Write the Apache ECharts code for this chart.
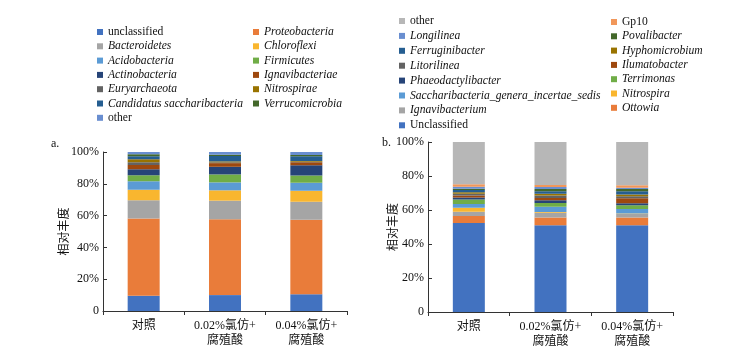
<!DOCTYPE html>
<html>
<head>
<meta charset="utf-8">
<script src="https://cdn.jsdelivr.net/npm/echarts@6/dist/echarts.min.js"></script>
<style>
  html, body { margin: 0; padding: 0; background: #fff; }
  #main { width: 753px; height: 350px; }
</style>
</head>
<body>
<div id="main"></div>
<script>
// 处理组
var groups = ['对照', '0.02%氯仿+\n腐殖酸', '0.04%氯仿+\n腐殖酸'];
var yTicks = [0, 20, 40, 60, 80, 100];

// a. 门水平 (自下而上)
var phylumNames = ['unclassified', 'Proteobacteria', 'Bacteroidetes', 'Chloroflexi', 'Acidobacteria',
    'Firmicutes', 'Actinobacteria', 'Ignavibacteriae', 'Euryarchaeota', 'Nitrospirae',
    'Candidatus saccharibacteria', 'Verrucomicrobia', 'other'];
var phylumCK = [9.6, 48.5, 11.5, 6.6, 5.4, 3.8, 3.8, 2.7, 1.7, 1.9, 1.9, 1.2, 1.4];
var phylum002 = [10.0, 47.7, 11.7, 6.5, 5.0, 5.0, 4.8, 2.3, 0.5, 0.6, 3.4, 0.8, 1.7];
var phylum004 = [10.5, 46.9, 11.3, 6.9, 5.0, 4.6, 6.4, 1.9, 0.3, 0.6, 2.9, 0.8, 1.9];

// b. 属水平 (自下而上)
var genusNames = ['Unclassified', 'Ottowia', 'Ignavibacterium', 'Nitrospira',
    'Saccharibacteria_genera_incertae_sedis', 'Terrimonas', 'Phaeodactylibacter', 'Ilumatobacter',
    'Litorilinea', 'Hyphomicrobium', 'Ferruginibacter', 'Povalibacter', 'Longilinea', 'Gp10', 'other'];
var genusCK = [52.3, 4.1, 2.6, 2.3, 2.2, 2.7, 1.2, 1.2, 0.9, 1.0, 1.2, 0.8, 1.2, 1.5, 24.8];
var genus002 = [51.1, 4.5, 2.8, 0.4, 3.1, 2.2, 1.6, 1.4, 1.4, 1.0, 1.6, 1.2, 1.2, 1.2, 25.3];
var genus004 = [51.1, 4.5, 2.0, 0.4, 2.6, 2.2, 1.2, 2.9, 1.2, 1.0, 2.0, 1.2, 0.8, 1.4, 25.5];

var palette = ['#4272C0', '#E97C3A', '#A5A5A5', '#F9B62F', '#5B9BD5', '#70AD47',
    '#264478', '#9E480E', '#636363', '#997300', '#255E91', '#43682B',
    '#698ED0', '#F1975A', '#B7B7B7'];
var plainNames = ['unclassified', 'Unclassified', 'other', 'Gp10'];

var serif = '"Liberation Serif", "Times New Roman", "Noto Sans CJK SC", serif';
var axisColor = '#333';

var myChart = echarts.init(document.getElementById('main'));

var series = [];
var i;
for (i = 0; i < phylumNames.length; i++) {
    series.push({
        name: phylumNames[i],
        type: 'bar',
        stack: 'phylum',
        xAxisIndex: 0,
        yAxisIndex: 0,
        barWidth: 32,
        itemStyle: { color: palette[i] },
        data: [phylumCK[i], phylum002[i], phylum004[i]]
    });
}
for (i = 0; i < genusNames.length; i++) {
    series.push({
        name: genusNames[i],
        type: 'bar',
        stack: 'genus',
        xAxisIndex: 1,
        yAxisIndex: 1,
        barWidth: 32,
        itemStyle: { color: palette[i] },
        data: [genusCK[i], genus002[i], genus004[i]]
    });
}

// 图例条目
var legendItem = function (name, color) {
    return {
        name: name,
        itemStyle: { color: color },
        textStyle: { fontStyle: plainNames.indexOf(name) >= 0 ? 'normal' : 'italic' }
    };
};
var leftCol1 = [], leftCol2 = [];
for (i = 0; i < phylumNames.length; i++) {
    (i % 2 === 0 ? leftCol1 : leftCol2).push(legendItem(phylumNames[i], palette[i]));
}
var rightCol1 = [], rightCol2 = [];
var k = 0;
for (i = genusNames.length - 1; i >= 0; i--) {
    (k % 2 === 0 ? rightCol1 : rightCol2).push(legendItem(genusNames[i], palette[i]));
    k++;
}

var legendBase = function (left, top, data, gap) {
    return {
        orient: 'vertical',
        left: left,
        top: top,
        padding: 0,
        itemGap: gap,
        itemWidth: 6,
        itemHeight: 6,
        icon: 'rect',
        selectedMode: false,
        textStyle: { fontFamily: serif, fontSize: 11.6, color: '#111', lineHeight: 14 },
        data: data
    };
};

var yAxisBase = function (gridIndex, gap) {
    return {
        type: 'value',
        gridIndex: gridIndex,
        min: 0,
        max: 100,
        interval: 20,
        name: '相对丰度',
        nameLocation: 'middle',
        nameGap: gap,
        nameMoveOverlap: false,
        nameTextStyle: { fontFamily: '"Noto Sans CJK SC", sans-serif', fontSize: 12, color: '#111' },
        axisLine: { show: true, lineStyle: { color: axisColor } },
        axisTick: { show: true, inside: true, length: 4, lineStyle: { color: axisColor } },
        splitLine: { show: false },
        axisLabel: {
            margin: 4,
            fontFamily: serif,
            fontSize: 12,
            color: '#111',
            formatter: function (v) { return v === 0 ? '0' : v + '%'; }
        }
    };
};

var xAxisBase = function (gridIndex) {
    return {
        type: 'category',
        gridIndex: gridIndex,
        data: groups,
        axisLine: { lineStyle: { color: axisColor } },
        axisTick: { show: true, length: 4, lineStyle: { color: axisColor } },
        axisLabel: {
            margin: 7,
            fontFamily: '"Liberation Serif", "Noto Sans CJK SC", serif',
            fontSize: 12,
            lineHeight: 15,
            color: '#111'
        }
    };
};

var option = {
    animation: false,
    backgroundColor: '#fff',
    title: [
        { text: 'a.', left: 51, top: 138, padding: 0, textStyle: { fontFamily: serif, fontSize: 12, fontWeight: 'normal', color: '#111' } },
        { text: 'b.', left: 382, top: 137, padding: 0, textStyle: { fontFamily: serif, fontSize: 12, fontWeight: 'normal', color: '#111' } }
    ],
    legend: [
        legendBase(97, 25, leftCol1, 0.3),
        legendBase(253, 25, leftCol2, 0.3),
        legendBase(399, 14, rightCol1, 0.9),
        legendBase(611, 15, rightCol2, 0.3)
    ],
    grid: [
        { left: 103, right: 406, top: 152, bottom: 39 },
        { left: 428, right: 80, top: 142, bottom: 38 }
    ],
    xAxis: [xAxisBase(0), xAxisBase(1)],
    yAxis: [yAxisBase(0, 34), yAxisBase(1, 30)],
    series: series
};
myChart.setOption(option);
</script>
</body>
</html>
